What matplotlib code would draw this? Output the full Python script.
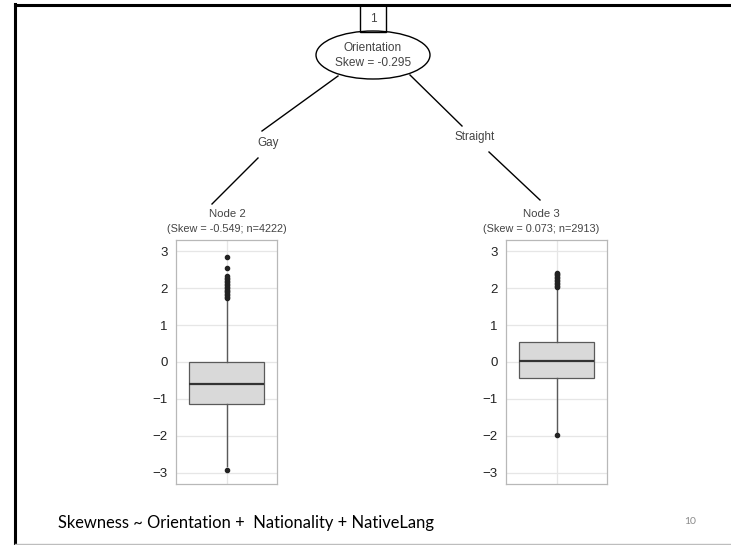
import matplotlib.pyplot as plt
from matplotlib.patches import Ellipse, Rectangle

W, H = 731, 545

# tree text
root_label = "Orientation"
root_skew = -0.295
branch_labels = ["Gay", "Straight"]
node_names = ["Node 2", "Node 3"]
node_skew = [-0.549, 0.073]
node_n = [4222, 2913]

# boxplot summaries per terminal node
medians = [-0.60, 0.035]
q1s = [-1.14, -0.43]
q3s = [-0.01, 0.53]
whis_lo = [-2.80, -1.88]
whis_hi = [1.70, 2.00]
fliers = [
    [1.72, 1.76, 1.80, 1.84, 1.88, 1.92, 1.96, 2.00, 2.04, 2.08, 2.12,
     2.16, 2.20, 2.24, 2.28, 2.33, 2.55, 2.83, -2.93],
    [2.02, 2.06, 2.10, 2.14, 2.18, 2.22, 2.26, 2.30, 2.34, 2.38, 2.42, -1.97],
]
y_ticks = [-3, -2, -1, 0, 1, 2, 3]

formula = "Skewness ~ Orientation +  Nationality + NativeLang"
page_no = "10"

tree_font = "Liberation Sans"
grey_txt = "#444444"


def px_axes(fig, x0, y0, x1, y1):
    # axes from pixel box (top-left origin)
    return fig.add_axes([x0 / W, 1 - y1 / H, (x1 - x0) / W, (y1 - y0) / H])


def main() -> None:
    fig = plt.figure(figsize=(W / 100, H / 100), dpi=100)
    bg = fig.add_axes([0, 0, 1, 1])
    bg.set_xlim(0, W)
    bg.set_ylim(H, 0)
    bg.axis("off")

    # slide frame
    bg.plot([15, 15], [4, H], color="black", lw=2.2)
    bg.plot([15, W], [5, 5], color="black", lw=2.2)
    bg.plot([15, W], [543.5, 543.5], color="#bdbdbd", lw=1)

    # root node
    cx = 373
    bg.add_patch(Rectangle((cx - 13, 5), 26, 27, fill=False, ec="black", lw=1))
    bg.text(cx, 19, "1", ha="center", va="center", fontsize=8.5,
            family=tree_font, color=grey_txt)
    bg.add_patch(Ellipse((cx, 55), 114, 48, fill=False, ec="black", lw=1))
    bg.text(cx, 48, root_label, ha="center", va="center", fontsize=8.6,
            family=tree_font, color=grey_txt)
    bg.text(cx, 63, f"Skew = {root_skew}", ha="center", va="center",
            fontsize=8.6, family=tree_font, color=grey_txt)

    # edges
    edges = [
        [((338, 76), (262, 131)), ((258, 158), (212, 204))],
        [((410, 75), (462, 126)), ((489, 152), (540, 200))],
    ]
    label_pos = [(268, 143), (475, 137)]
    node_x = [227, 541]
    for i in range(2):
        for (x0, y0), (x1, y1) in edges[i]:
            bg.plot([x0, x1], [y0, y1], color="black", lw=1)
        bg.text(*label_pos[i], branch_labels[i], ha="center", va="center",
                fontsize=8.4, family=tree_font, color=grey_txt)
        bg.text(node_x[i], 214, node_names[i], ha="center", va="center",
                fontsize=8.2, family=tree_font, color=grey_txt)
        bg.text(node_x[i], 229, f"(Skew = {node_skew[i]}; n={node_n[i]})",
                ha="center", va="center", fontsize=7.8, family=tree_font,
                color=grey_txt)

    # boxplot panels
    panels = [(176, 240, 277, 484), (506, 240, 607, 484)]
    for i, box in enumerate(panels):
        ax = px_axes(fig, *box)
        stats = [{
            "med": medians[i], "q1": q1s[i], "q3": q3s[i],
            "whislo": whis_lo[i], "whishi": whis_hi[i], "fliers": fliers[i],
        }]
        ax.bxp(stats, positions=[1], widths=0.75, patch_artist=True,
               showcaps=False,
               boxprops=dict(facecolor="#d9d9d9", edgecolor="#5a5a5a", lw=0.9),
               medianprops=dict(color="#333333", lw=1.6),
               whiskerprops=dict(color="#5a5a5a", lw=1.0),
               flierprops=dict(marker="o", markersize=3,
                               markerfacecolor="#222222",
                               markeredgecolor="#222222"))
        ax.set_xlim(0.5, 1.5)
        ax.set_ylim(-3.3, 3.3)
        ax.set_yticks(y_ticks)
        ax.set_yticklabels([str(t).replace("-", "\u2212") for t in y_ticks])
        ax.set_xticks([1])
        ax.set_xticklabels([])
        ax.tick_params(length=0, pad=6, labelsize=9.5, labelcolor="#222222")
        for lab in ax.get_yticklabels():
            lab.set_family(tree_font)
        ax.grid(True, color="#e6e6e6", lw=0.9)
        ax.set_axisbelow(True)
        for sp in ax.spines.values():
            sp.set_color("#b8b8b8")
            sp.set_linewidth(0.9)

    bg.text(58, 523, formula, ha="left", va="center", fontsize=11.9,
            family="Lato", color="black")
    bg.text(690, 522, page_no, ha="center", va="center", fontsize=7.5,
            family="Lato", color="#8a8a8a")

    fig.savefig("out.png", dpi=100)


if __name__ == "__main__":
    main()
